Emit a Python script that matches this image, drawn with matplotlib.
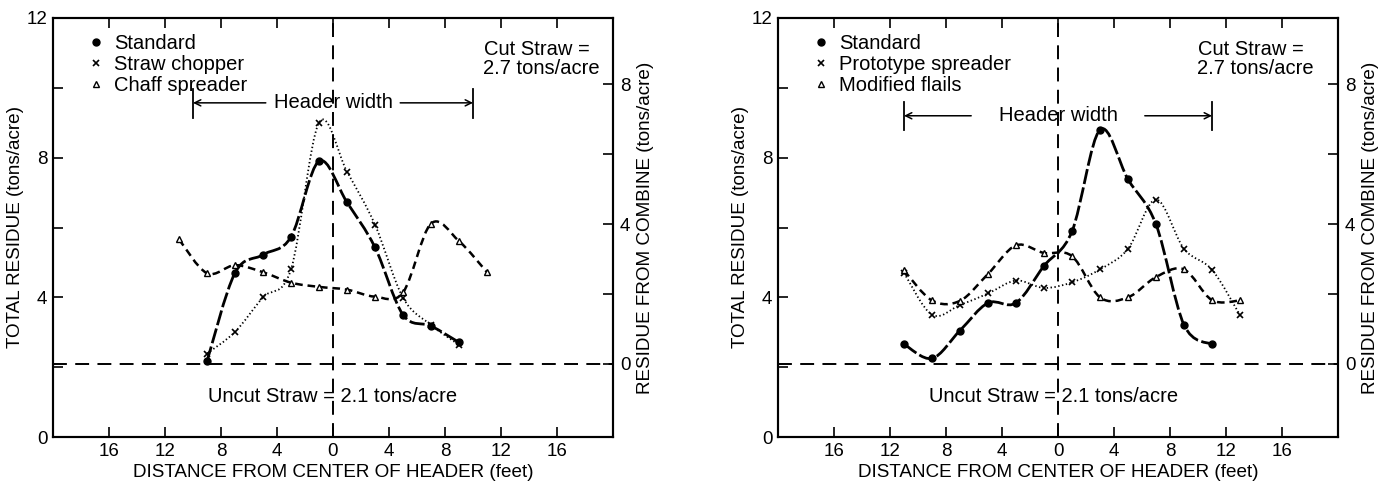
import numpy as np
import matplotlib
matplotlib.use('Agg')
import matplotlib.pyplot as plt
from matplotlib.path import Path
from matplotlib.patches import PathPatch
from matplotlib.lines import Line2D

plt.rcParams['font.family'] = ['Liberation Sans', 'DejaVu Sans']
plt.rcParams['lines.scale_dashes'] = False

# ---------------- data ----------------
# Left panel
dist_left = [-9, -7, -5, -3, -1, 1, 3, 5, 7, 9]
standard_left = [2.17, 4.70, 5.22, 5.73, 7.90, 6.72, 5.43, 3.50, 3.18, 2.71]
chopper_left = [2.39, 3.01, 4.00, 4.80, 9.00, 7.60, 6.08, 3.99, 3.21, 2.64]
dist_chaff = [-11, -9, -7, -5, -3, -1, 1, 3, 5, 7, 9, 11]
chaff_left = [5.66, 4.69, 4.92, 4.72, 4.42, 4.30, 4.22, 4.02, 4.14, 6.11, 5.61, 4.72]

# Right panel
dist_std_right = [-11, -9, -7, -5, -3, -1, 1, 3, 5, 7, 9, 11]
standard_right = [2.66, 2.25, 3.05, 3.84, 3.84, 4.90, 5.89, 8.80, 7.38, 6.09, 3.21, 2.65]
dist_right = [-11, -9, -7, -5, -3, -1, 1, 3, 5, 7, 9, 11, 13]
prototype_right = [4.70, 3.50, 3.78, 4.11, 4.48, 4.27, 4.43, 4.80, 5.39, 6.80, 5.39, 4.79, 3.49]
flails_right = [4.77, 3.91, 3.90, 4.67, 5.49, 5.27, 5.18, 4.00, 4.00, 4.58, 4.80, 3.92, 3.91]

uncut_straw = 2.1
header_half_left = 10
header_half_right = 11

xtick_pos = [-16, -12, -8, -4, 0, 4, 8, 12, 16]
xtick_labels = ['16', '12', '8', '4', '0', '4', '8', '12', '16']
ytick_pos = [0, 2, 4, 6, 8, 10, 12]
ytick_labels = ['0', '', '4', '', '8', '', '12']
rtick_pos = [0, 2, 4, 6, 8]
rtick_labels = ['0', '', '4', '', '8']

legend_left = ['Standard', 'Straw chopper', 'Chaff spreader']
legend_right = ['Standard', 'Prototype spreader', 'Modified flails']

# ---------------- helpers ----------------
def smooth_path(x, y):
    pts = np.column_stack([x, y]).astype(float)
    n = len(pts)
    verts = [pts[0]]
    codes = [Path.MOVETO]
    for i in range(n - 1):
        p0 = pts[i - 1] if i > 0 else pts[i]
        p1 = pts[i]
        p2 = pts[i + 1]
        p3 = pts[i + 2] if i + 2 < n else pts[i + 1]
        c1 = p1 + (p2 - p0) / 6.0
        c2 = p2 - (p3 - p1) / 6.0
        verts += [c1, c2, p2]
        codes += [Path.CURVE4] * 3
    return Path(verts, codes)


def draw_series(ax, x, y, ls, lw, marker, ms, mfc='black', mew=1.0):
    ax.add_patch(PathPatch(smooth_path(x, y), fill=False, edgecolor='black',
                           lw=lw, linestyle=ls, capstyle='butt', zorder=3))
    ax.plot(x, y, linestyle='none', marker=marker, ms=ms, color='black',
            mfc=mfc, mec='black', mew=mew, zorder=4)


STD_LS = (0, (11, 2.5))
DOT_LS = (0, (1.0, 1.8))
DASH_LS = (0, (5.5, 3.5))
REF_LS = (0, (10, 6))
TXT = 14.5
LBL = 13.6
TCK = 13.5

def setup_axes(ax, header_half, names, cut_x, uncut_x):
    ax.set_xlim(-20, 20)
    ax.set_ylim(0, 12)
    ax.set_xticks(xtick_pos)
    ax.set_xticklabels(xtick_labels)
    ax.set_yticks(ytick_pos)
    ax.set_yticklabels(ytick_labels)
    ax.tick_params(direction='in', length=7, width=1.2, top=True,
                   labelsize=TCK, pad=4)
    for s in ax.spines.values():
        s.set_linewidth(1.5)
    ax.set_xlabel('DISTANCE FROM CENTER OF HEADER (feet)', fontsize=LBL, labelpad=3)
    ax.set_ylabel('TOTAL RESIDUE (tons/acre)', fontsize=LBL, labelpad=2)

    ax2 = ax.twinx()
    ax2.set_ylim(-uncut_straw, 12 - uncut_straw)
    ax2.set_yticks(rtick_pos)
    ax2.set_yticklabels(rtick_labels)
    ax2.tick_params(direction='in', length=7, width=1.2, labelsize=TCK, pad=5)
    for s in ax2.spines.values():
        s.set_linewidth(1.5)
    ax2.set_ylabel('RESIDUE FROM COMBINE (tons/acre)', fontsize=LBL)
    ax2.yaxis.set_label_coords(1.043, 0.5)

    ax.axhline(uncut_straw, color='black', lw=1.4, ls=REF_LS, zorder=2)
    ax.axvline(0, color='black', lw=1.4, ls=REF_LS, zorder=2)

    # header width annotation
    yh = 9.57 if header_half == header_half_left else 9.2
    ax.plot([-header_half, -header_half], [yh - 0.42, yh + 0.4], color='black', lw=1.3)
    ax.plot([header_half, header_half], [yh - 0.42, yh + 0.4], color='black', lw=1.3)
    ax.text(0, yh, 'Header width', ha='center', va='center', fontsize=TXT)
    gap = 4.8 if header_half == header_half_left else 6.2
    arrow = dict(arrowstyle='->', color='black', lw=1.1, shrinkA=0, shrinkB=0,
                 mutation_scale=11)
    ax.annotate('', xy=(-header_half, yh), xytext=(-gap, yh), arrowprops=arrow)
    ax.annotate('', xy=(header_half, yh), xytext=(gap, yh), arrowprops=arrow)

    ax.text(cut_x, 11.1, 'Cut Straw =', ha='left', va='center', fontsize=TXT)
    ax.text(cut_x - 0.1, 10.55, '2.7 tons/acre', ha='left', va='center', fontsize=TXT)
    ax.text(uncut_x, 1.15, 'Uncut Straw = 2.1 tons/acre', ha='center', va='center',
            fontsize=TXT)

    handles = [
        Line2D([], [], linestyle='none', marker='o', ms=5, color='black'),
        Line2D([], [], linestyle='none', marker='x', ms=5, color='black', mew=1.2),
        Line2D([], [], linestyle='none', marker='^', ms=5, mfc='white',
               mec='black', mew=1.0),
    ]
    ax.legend(handles, names, loc='upper left', bbox_to_anchor=(0.058, 0.972),
              frameon=False, fontsize=TXT, handlelength=0.6, handletextpad=0.6,
              labelspacing=0.1, borderpad=0.2, borderaxespad=0)
    return ax2


fig = plt.figure(figsize=(13.82, 4.82), dpi=100)
fig.patch.set_facecolor('white')
axL = fig.add_axes([53 / 1382, 45 / 482, 560 / 1382, 419 / 482])
axR = fig.add_axes([778 / 1382, 45 / 482, 560 / 1382, 419 / 482])

setup_axes(axL, header_half_left, legend_left, 10.8, 0)
draw_series(axL, dist_left, standard_left, STD_LS, 2.0, 'o', 5)
draw_series(axL, dist_left, chopper_left, DOT_LS, 1.3, 'x', 5, mew=1.2)
draw_series(axL, dist_chaff, chaff_left, DASH_LS, 1.8, '^', 5, mfc='white')

setup_axes(axR, header_half_right, legend_right, 10.0, -0.3)
draw_series(axR, dist_std_right, standard_right, STD_LS, 2.0, 'o', 5)
draw_series(axR, dist_right, prototype_right, DOT_LS, 1.3, 'x', 5, mew=1.2)
draw_series(axR, dist_right, flails_right, DASH_LS, 1.8, '^', 5, mfc='white')

fig.savefig('out.png', dpi=100, facecolor='white')
